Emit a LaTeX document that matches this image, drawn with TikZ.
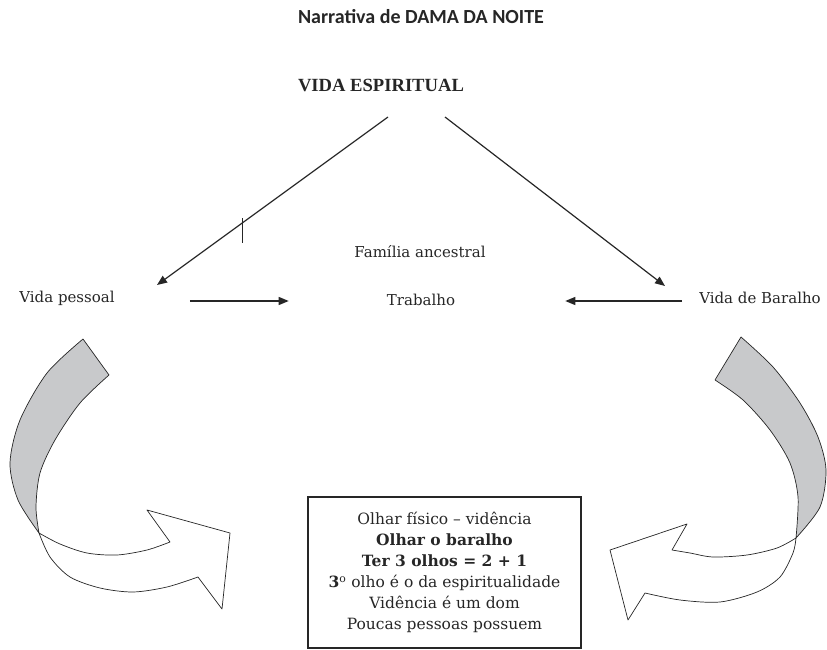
\documentclass[tikz,border=0pt]{standalone}
\usepackage{fontspec}
\setmainfont{DejaVu Serif}
\newfontfamily\titlefont{Carlito}
\newfontfamily\headfont{Liberation Serif}
\usepackage{tikz}
\usetikzlibrary{arrows.meta,positioning,calc}
\definecolor{ink}{HTML}{262626}
\definecolor{ribbon}{HTML}{C8C9CB}

\tikzset{
  conn/.style={draw=ink,line width=1.2pt,-{Triangle[length=10pt,width=8pt]}},
  lbl/.style={font=\fontsize{15}{18}\selectfont,text=ink,inner sep=0pt},
  band/.style={draw=ink,line width=0.7pt,line join=round},
}

\begin{document}
\begin{tikzpicture}[x=1pt,y=-1pt]
  \useasboundingbox (0,0) rectangle (827,650);

  % headings
  \node[font=\titlefont\bfseries\fontsize{20}{24}\selectfont,text=ink] (title) at (421,17) {Narrativa de DAMA DA NOITE};
  \node[font=\headfont\bfseries\fontsize{18.6}{22}\selectfont,text=ink] (esp) at (381,85) {VIDA ESPIRITUAL};

  % the three lives
  \node[lbl] (pessoal) at (67,298) {Vida pessoal};
  \node[lbl] (fam) at (420,252) {Família ancestral};
  \node[lbl] (trab) at (421,300) {Trabalho};
  \node[lbl] (baralho) at (760,298) {Vida de Baralho};

  \coordinate (espL) at (388,117);
  \coordinate (espR) at (445,117);
  \coordinate (pesTip) at (157,285);
  \coordinate (barTip) at (665,286);
  \draw[conn] (espL) -- (pesTip);
  \draw[conn] (espR) -- (barTip);
  \draw[ink,line width=0.8pt] (242,218) -- (242,243);

  \draw[conn] ($(pessoal.east)+(75,3)$) -- ($(trab.west)+(-98,1)$);
  \draw[conn] ($(baralho.west)+(-17,3)$) -- ($(trab.east)+(110,1)$);

  % box
  \node[draw=ink,line width=1.2pt,minimum width=273pt,minimum height=151pt,inner sep=0pt,
        align=center,font=\fontsize{15.5}{21}\selectfont,text=ink] (vid) at (444.5,572.5) {%
    Olhar físico – vidência\\
    \textbf{Olhar o baralho}\\
    \textbf{Ter 3 olhos = 2 + 1}\\
    \textbf{3}\textsuperscript{o} olho é o da espiritualidade\\
    Vidência é um dom\\
    Poucas pessoas possuem};

  % curved arrows
  \draw[band,fill=ribbon] plot[smooth] coordinates {(83,339) (47,373) (20,420) (10,463) (18,500) (39,533)}
    -- plot[smooth] coordinates {(39,533) (36,507) (40,473) (55,440) (80,403) (109,375)} -- cycle;
  \draw[band,fill=white] plot[smooth] coordinates {(39,533) (60,544) (87,553) (117,555) (147,550) (170,542)}
    -- (147,510) -- (230,533) -- (222,609) -- (198,577)
    -- plot[smooth] coordinates {(198,577) (167,587) (133,592) (100,588) (70,577) (50,557) (39,533)} -- cycle;

  \draw[band,fill=ribbon] plot[smooth] coordinates {(741,337) (773,367) (800,403) (818,437) (826,470) (820,507) (796,538)}
    -- plot[smooth] coordinates {(796,538) (798,497) (790,463) (770,430) (743,400) (715,380)} -- cycle;
  \draw[band,fill=white] plot[smooth] coordinates {(796,538) (777,548) (747,555) (713,557) (690,553) (672,550)}
    -- (687,524) -- (610,550) -- (628,620) -- (645,593)
    -- plot[smooth] coordinates {(645,593) (680,600) (720,602) (757,592) (780,577) (793,553) (796,538)} -- cycle;
\end{tikzpicture}
\end{document}
